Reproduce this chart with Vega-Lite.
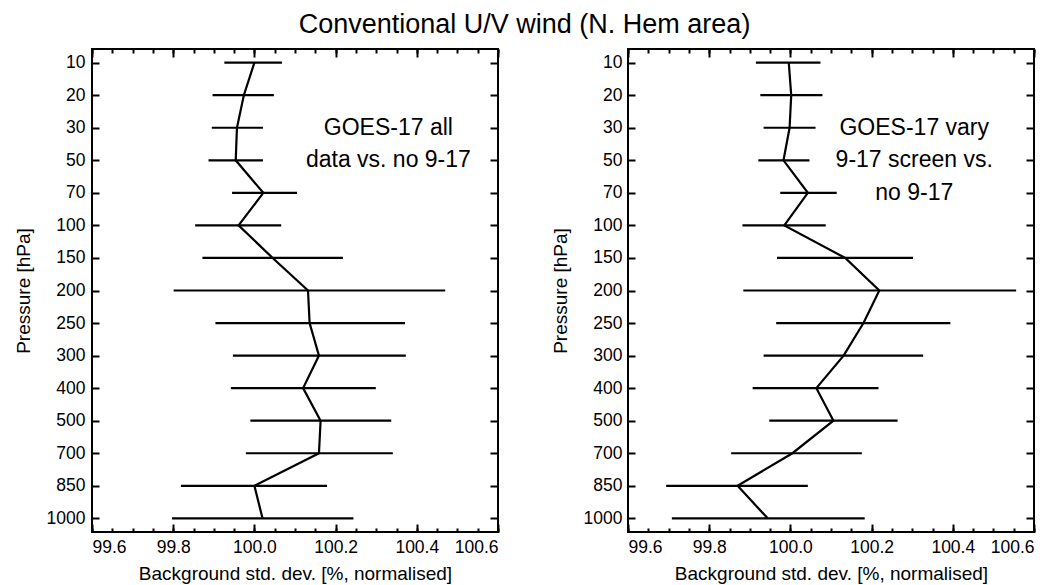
{
  "$schema": "https://vega.github.io/schema/vega-lite/v6.json",
  "background": "white",
  "padding": {"left": 13, "top": 11, "right": 5, "bottom": 5},
  "title": {"text": "Conventional U/V wind (N. Hem area)", "fontSize": 27, "fontWeight": "normal", "font": "Liberation Sans", "color": "black", "anchor": "middle", "offset": 8},
  "datasets": {
    "profiles": [
      {"panel": "L", "level": 10, "val": 100.0, "lo": 99.926, "hi": 100.068},
      {"panel": "L", "level": 20, "val": 99.974, "lo": 99.897, "hi": 100.048},
      {"panel": "L", "level": 30, "val": 99.957, "lo": 99.895, "hi": 100.021},
      {"panel": "L", "level": 50, "val": 99.954, "lo": 99.887, "hi": 100.021},
      {"panel": "L", "level": 70, "val": 100.022, "lo": 99.945, "hi": 100.105},
      {"panel": "L", "level": 100, "val": 99.961, "lo": 99.854, "hi": 100.066},
      {"panel": "L", "level": 150, "val": 100.045, "lo": 99.872, "hi": 100.218},
      {"panel": "L", "level": 200, "val": 100.132, "lo": 99.801, "hi": 100.47},
      {"panel": "L", "level": 250, "val": 100.136, "lo": 99.904, "hi": 100.371},
      {"panel": "L", "level": 300, "val": 100.159, "lo": 99.947, "hi": 100.373},
      {"panel": "L", "level": 400, "val": 100.12, "lo": 99.942, "hi": 100.299},
      {"panel": "L", "level": 500, "val": 100.163, "lo": 99.99, "hi": 100.337},
      {"panel": "L", "level": 700, "val": 100.159, "lo": 99.979, "hi": 100.341},
      {"panel": "L", "level": 850, "val": 100.0, "lo": 99.819, "hi": 100.179},
      {"panel": "L", "level": 1000, "val": 100.02, "lo": 99.797, "hi": 100.244},
      {"panel": "R", "level": 10, "val": 99.996, "lo": 99.915, "hi": 100.074},
      {"panel": "R", "level": 20, "val": 100.002, "lo": 99.926, "hi": 100.079},
      {"panel": "R", "level": 30, "val": 99.998, "lo": 99.934, "hi": 100.062},
      {"panel": "R", "level": 50, "val": 99.983, "lo": 99.921, "hi": 100.047},
      {"panel": "R", "level": 70, "val": 100.043, "lo": 99.975, "hi": 100.114},
      {"panel": "R", "level": 100, "val": 99.985, "lo": 99.882, "hi": 100.087},
      {"panel": "R", "level": 150, "val": 100.135, "lo": 99.967, "hi": 100.302},
      {"panel": "R", "level": 200, "val": 100.219, "lo": 99.884, "hi": 100.556},
      {"panel": "R", "level": 250, "val": 100.18, "lo": 99.965, "hi": 100.394},
      {"panel": "R", "level": 300, "val": 100.131, "lo": 99.934, "hi": 100.327},
      {"panel": "R", "level": 400, "val": 100.064, "lo": 99.907, "hi": 100.217},
      {"panel": "R", "level": 500, "val": 100.106, "lo": 99.948, "hi": 100.264},
      {"panel": "R", "level": 700, "val": 100.005, "lo": 99.854, "hi": 100.176},
      {"panel": "R", "level": 850, "val": 99.87, "lo": 99.694, "hi": 100.043},
      {"panel": "R", "level": 1000, "val": 99.944, "lo": 99.708, "hi": 100.183}
    ],
    "notes": [
      {"panel": "L", "level": 30, "tx": 100.33, "label": "GOES-17 all"},
      {"panel": "L", "level": 50, "tx": 100.33, "label": "data vs. no 9-17"},
      {"panel": "R", "level": 30, "tx": 100.305, "label": "GOES-17 vary"},
      {"panel": "R", "level": 50, "tx": 100.305, "label": "9-17 screen vs."},
      {"panel": "R", "level": 70, "tx": 100.305, "label": "no 9-17"}
    ]
  },
  "hconcat": [
    {
      "width": 406,
      "height": 483,
      "resolve": {"axis": {"x": "independent", "y": "independent"}},
      "layer": [
        {
          "data": {"name": "profiles"},
          "transform": [{"filter": "datum.panel === 'L'"}],
          "mark": {"type": "rule", "color": "black", "strokeWidth": 2.2},
          "encoding": {
            "x": {"field": "lo", "type": "quantitative", "scale": {"domain": [99.6, 100.6], "nice": false, "zero": false},
                  "axis": {"orient": "bottom", "values": [99.6, 99.8, 100.0, 100.2, 100.4, 100.6], "format": ".1f", "tickSize": -8, "labelPadding": 14, "title": "Background std. dev. [%, normalised]", "titlePadding": 9}},
            "x2": {"field": "hi"},
            "y": {"field": "level", "type": "ordinal", "scale": {"type": "point", "padding": 0.42, "domain": [10, 20, 30, 50, 70, 100, 150, 200, 250, 300, 400, 500, 700, 850, 1000]},
                  "axis": {"orient": "left", "tickSize": -7, "labelPadding": 14, "title": "Pressure [hPa]", "titlePadding": 13}}
          }
        },
        {
          "data": {"name": "profiles"},
          "transform": [{"filter": "datum.panel === 'L'"}],
          "mark": {"type": "line", "color": "black", "strokeWidth": 2.2},
          "encoding": {
            "x": {"field": "val", "type": "quantitative", "axis": {"orient": "top", "values": [99.6, 99.8, 100.0, 100.2, 100.4, 100.6], "tickSize": -8, "labels": false, "title": null}},
            "y": {"field": "level", "type": "ordinal", "axis": {"orient": "right", "tickSize": -8, "labels": false, "title": null}},
            "order": {"field": "level", "type": "quantitative"}
          }
        },
        {
          "mark": {"type": "rule", "color": "black", "strokeWidth": 2.2},
          "encoding": {
            "x": {"datum": 100, "type": "quantitative", "axis": {"orient": "bottom", "values": [99.6, 99.65, 99.7, 99.75, 99.8, 99.85, 99.9, 99.95, 100.0, 100.05, 100.1, 100.15, 100.2, 100.25, 100.3, 100.35, 100.4, 100.45, 100.5, 100.55, 100.6], "tickSize": -4, "labels": false, "title": null}}
          }
        },
        {
          "data": {"name": "notes"},
          "transform": [{"filter": "datum.panel === 'L'"}],
          "mark": {"type": "text", "fontSize": 23, "color": "black", "align": "center", "baseline": "middle", "font": "Liberation Sans"},
          "encoding": {
            "x": {"field": "tx", "type": "quantitative", "axis": {"orient": "top", "values": [99.6, 99.65, 99.7, 99.75, 99.8, 99.85, 99.9, 99.95, 100.0, 100.05, 100.1, 100.15, 100.2, 100.25, 100.3, 100.35, 100.4, 100.45, 100.5, 100.55, 100.6], "tickSize": -4, "labels": false, "title": null}},
            "y": {"field": "level", "type": "ordinal", "axis": null},
            "text": {"field": "label"}
          }
        }
      ]
    },
    {
      "width": 406,
      "height": 483,
      "resolve": {"axis": {"x": "independent", "y": "independent"}},
      "layer": [
        {
          "data": {"name": "profiles"},
          "transform": [{"filter": "datum.panel === 'R'"}],
          "mark": {"type": "rule", "color": "black", "strokeWidth": 2.2},
          "encoding": {
            "x": {"field": "lo", "type": "quantitative", "scale": {"domain": [99.6, 100.6], "nice": false, "zero": false},
                  "axis": {"orient": "bottom", "values": [99.6, 99.8, 100.0, 100.2, 100.4, 100.6], "format": ".1f", "tickSize": -8, "labelPadding": 14, "title": "Background std. dev. [%, normalised]", "titlePadding": 9}},
            "x2": {"field": "hi"},
            "y": {"field": "level", "type": "ordinal", "scale": {"type": "point", "padding": 0.42, "domain": [10, 20, 30, 50, 70, 100, 150, 200, 250, 300, 400, 500, 700, 850, 1000]},
                  "axis": {"orient": "left", "tickSize": -7, "labelPadding": 13, "title": "Pressure [hPa]", "titlePadding": 13}}
          }
        },
        {
          "data": {"name": "profiles"},
          "transform": [{"filter": "datum.panel === 'R'"}],
          "mark": {"type": "line", "color": "black", "strokeWidth": 2.2},
          "encoding": {
            "x": {"field": "val", "type": "quantitative", "axis": {"orient": "top", "values": [99.6, 99.8, 100.0, 100.2, 100.4, 100.6], "tickSize": -8, "labels": false, "title": null}},
            "y": {"field": "level", "type": "ordinal", "axis": {"orient": "right", "tickSize": -8, "labels": false, "title": null}},
            "order": {"field": "level", "type": "quantitative"}
          }
        },
        {
          "mark": {"type": "rule", "color": "black", "strokeWidth": 2.2},
          "encoding": {
            "x": {"datum": 100, "type": "quantitative", "axis": {"orient": "bottom", "values": [99.6, 99.65, 99.7, 99.75, 99.8, 99.85, 99.9, 99.95, 100.0, 100.05, 100.1, 100.15, 100.2, 100.25, 100.3, 100.35, 100.4, 100.45, 100.5, 100.55, 100.6], "tickSize": -4, "labels": false, "title": null}}
          }
        },
        {
          "data": {"name": "notes"},
          "transform": [{"filter": "datum.panel === 'R'"}],
          "mark": {"type": "text", "fontSize": 23, "color": "black", "align": "center", "baseline": "middle", "font": "Liberation Sans"},
          "encoding": {
            "x": {"field": "tx", "type": "quantitative", "axis": {"orient": "top", "values": [99.6, 99.65, 99.7, 99.75, 99.8, 99.85, 99.9, 99.95, 100.0, 100.05, 100.1, 100.15, 100.2, 100.25, 100.3, 100.35, 100.4, 100.45, 100.5, 100.55, 100.6], "tickSize": -4, "labels": false, "title": null}},
            "y": {"field": "level", "type": "ordinal", "axis": null},
            "text": {"field": "label"}
          }
        }
      ]
    }
  ],
  "config": {
    "font": "Liberation Sans",
    "view": {"stroke": "black", "strokeWidth": 2},
    "concat": {"spacing": 50},
    "axis": {"domain": false, "grid": false, "tickColor": "black", "tickWidth": 2, "labelColor": "black", "titleColor": "black", "labelFont": "Liberation Sans", "titleFont": "Liberation Sans", "labelFontSize": 17.5, "titleFontSize": 19, "titleFontWeight": "normal"}
  }
}
